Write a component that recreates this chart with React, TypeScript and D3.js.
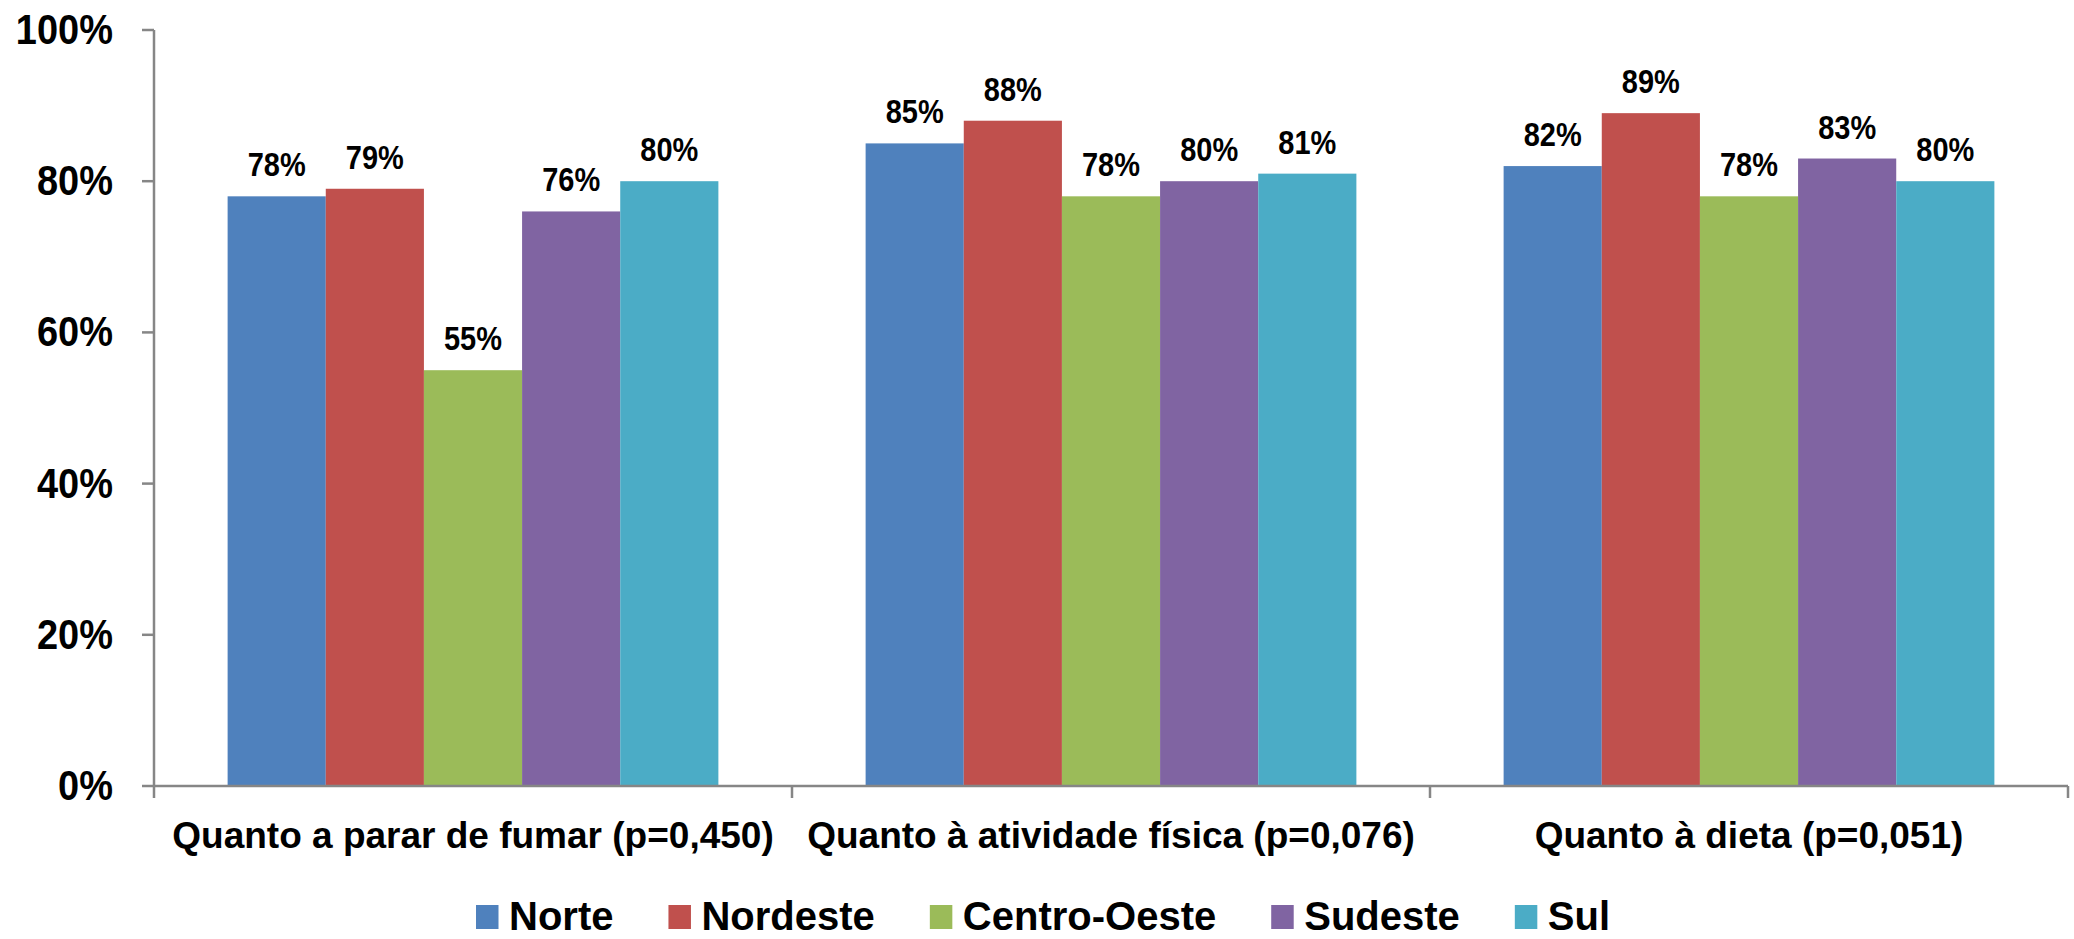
import React from 'react';
import * as d3 from 'd3';

// Grouped bar chart: share of patients per region, by type of advice
const categories = [
  'Quanto a parar de fumar (p=0,450)',
  'Quanto à atividade física (p=0,076)',
  'Quanto à dieta (p=0,051)',
];
const regions = ['Norte', 'Nordeste', 'Centro-Oeste', 'Sudeste', 'Sul'];
const regionColors = ['#4F81BD', '#C0504D', '#9BBB59', '#8064A2', '#4BACC6'];

const norte = [78, 85, 82];
const nordeste = [79, 88, 89];
const centroOeste = [55, 78, 78];
const sudeste = [76, 80, 83];
const sul = [80, 81, 80];

const yTicks = [0, 20, 40, 60, 80, 100];

const W = 2074;
const H = 939;
const FONT = "'Liberation Sans', Arial, sans-serif";
const AXIS = '#868686';

function textWidth(s: string, size: number): number {
  const ctx = document.createElement('canvas').getContext('2d');
  if (!ctx) return s.length * size * 0.6;
  ctx.font = `bold ${size}px ${FONT}`;
  return ctx.measureText(s).width;
}

export default function App() {
  const series = [norte, nordeste, centroOeste, sudeste, sul];
  const left = 154;
  const right = 2068;
  const top = 30;
  const bottom = 786;

  const x = d3.scaleBand<string>().domain(categories).range([left, right]).paddingInner(0).paddingOuter(0);
  const xi = d3.scaleBand<string>().domain(regions).range([0, x.bandwidth()]).paddingInner(0).paddingOuter(0.75);
  const y = d3.scaleLinear().domain([0, 100]).range([bottom, top]);
  const fmt = (v: number) => `${v}%`;

  // legend layout from measured label widths
  const legendSize = 40;
  const swW = 22.5;
  const swH = 24;
  const swToText = 33;
  const itemGap = 55;
  const legendBase = 930;
  let cursor = 476;
  const legendItems = regions.map((r, i) => {
    const w = textWidth(r, legendSize);
    const item = { r, color: regionColors[i], x: cursor };
    cursor += swToText + w + itemGap;
    return item;
  });

  const boundaries = [...categories.map((c) => x(c) as number), right];

  return (
    <svg
      width={W}
      height={H}
      style={{ position: 'absolute', left: 0, top: 0, background: '#fff', display: 'block' }}
      fontFamily={FONT}
      fontWeight="bold"
    >
      <rect x={0} y={0} width={W} height={H} fill="#fff" />

      {/* bars */}
      {categories.map((c, ci) =>
        regions.map((r, ri) => {
          const v = series[ri][ci];
          const bx = (x(c) as number) + (xi(r) as number);
          return (
            <rect
              key={`${c}-${r}`}
              x={bx}
              y={y(v)}
              width={xi.bandwidth()}
              height={y(0) - y(v)}
              fill={regionColors[ri]}
            />
          );
        })
      )}

      {/* value labels */}
      {categories.map((c, ci) =>
        regions.map((r, ri) => {
          const v = series[ri][ci];
          const cx = (x(c) as number) + (xi(r) as number) + xi.bandwidth() / 2;
          return (
            <text
              key={`l-${c}-${r}`}
              transform={`translate(${cx},${y(v) - 20}) scale(1,1.12)`}
              textAnchor="middle"
              fontSize={29}
              fill="#000"
            >
              {fmt(v)}
            </text>
          );
        })
      )}

      {/* y axis */}
      <line x1={left} x2={left} y1={top} y2={bottom} stroke={AXIS} strokeWidth={2.5} />
      {yTicks.map((t) => (
        <g key={`yt-${t}`}>
          <line x1={left - 12} x2={left} y1={y(t)} y2={y(t)} stroke={AXIS} strokeWidth={2.5} />
          <text
            transform={`translate(113,${y(t) + 14}) scale(1,1.12)`}
            textAnchor="end"
            fontSize={38}
            fill="#000"
          >
            {fmt(t)}
          </text>
        </g>
      ))}

      {/* x axis */}
      <line x1={left} x2={right} y1={bottom} y2={bottom} stroke={AXIS} strokeWidth={2.5} />
      {boundaries.map((bx, i) => (
        <line key={`xt-${i}`} x1={bx} x2={bx} y1={bottom} y2={bottom + 12} stroke={AXIS} strokeWidth={2.5} />
      ))}
      {categories.map((c) => (
        <text
          key={`xc-${c}`}
          x={(x(c) as number) + x.bandwidth() / 2}
          y={848}
          textAnchor="middle"
          fontSize={37}
          fill="#000"
        >
          {c}
        </text>
      ))}

      {/* legend */}
      {legendItems.map((it) => (
        <g key={`lg-${it.r}`}>
          <rect x={it.x} y={legendBase - 25} width={swW} height={swH} fill={it.color} />
          <text x={it.x + swToText} y={legendBase} fontSize={legendSize} fill="#000">
            {it.r}
          </text>
        </g>
      ))}
    </svg>
  );
}
